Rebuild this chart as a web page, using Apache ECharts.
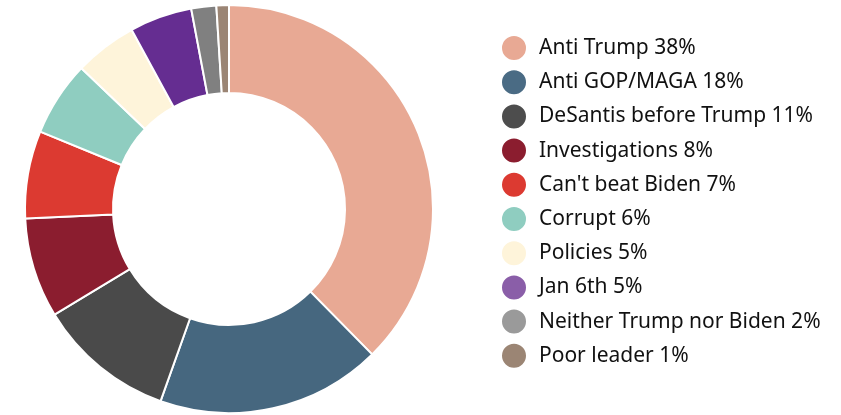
<!DOCTYPE html>
<html>
<head>
<meta charset="utf-8">
<script src="https://cdn.jsdelivr.net/npm/echarts@6/dist/echarts.min.js"></script>
<style>
    html, body {margin: 0; padding: 0; background: #fff;}
    #chart {width: 841px; height: 415px;}
</style>
</head>
<body>
<div id="chart"></div>
<script>
var categories = ['Anti Trump', 'Anti GOP/MAGA', 'DeSantis before Trump', 'Investigations', "Can't beat Biden",
    'Corrupt', 'Policies', 'Jan 6th', 'Neither Trump nor Biden', 'Poor leader'];
var values = [38, 18, 11, 8, 7, 6, 5, 5, 2, 1];
var sliceColors = ['#e8a994', '#46677f', '#4a4a4a', '#8b1d2f', '#dc3a31', '#8fcdc0', '#fef4da', '#652d91', '#808080', '#9b8574'];
var legendColors = ['#e8a994', '#4a6b84', '#4d4d4d', '#8b1d2f', '#dc3a31', '#8fcdc0', '#fef4da', '#8a5ea8', '#9a9a9a', '#9b8574'];

window.onload = function () {
    var chart = echarts.init(document.getElementById('chart'));

    chart.setOption({
        animation: false,
        legend: {
            orient: 'vertical',
            left: 495,
            top: 29,
            icon: 'circle',
            itemWidth: 26,
            itemHeight: 26,
            itemGap: 6.2,
            selectedMode: false,
            textStyle: {
                fontFamily: 'Noto Sans',
                fontSize: 21,
                lineHeight: 26,
                color: '#111',
                padding: [0, 0, 0, 7]
            },
            formatter: function (name) {
                return name + ' ' + values[categories.indexOf(name)] + '%';
            },
            data: categories.map(function (c, i) {
                return {name: c, itemStyle: {color: legendColors[i]}};
            })
        },
        series: [
            {
                type: 'pie',
                center: [229, 209],
                radius: [116, 204],
                startAngle: 90,
                clockwise: true,
                label: {show: false},
                labelLine: {show: false},
                emphasis: {disabled: true},
                itemStyle: {
                    borderColor: '#fff',
                    borderWidth: 2
                },
                data: categories.map(function (c, i) {
                    return {name: c, value: values[i], itemStyle: {color: sliceColors[i]}};
                })
            }
        ]
    });
};
</script>
</body>
</html>
